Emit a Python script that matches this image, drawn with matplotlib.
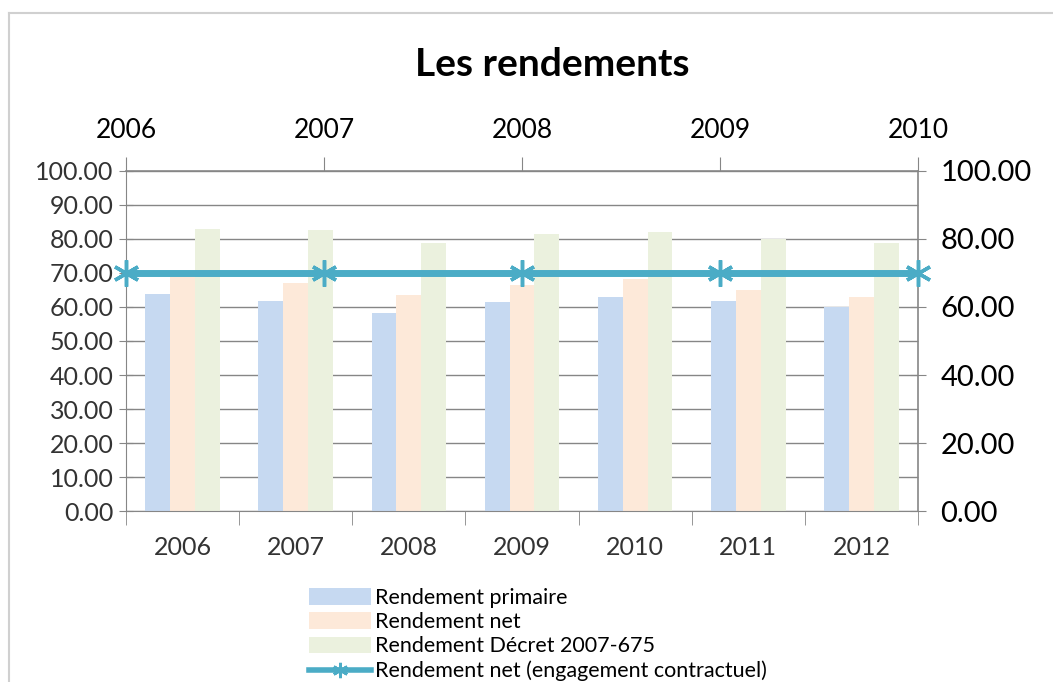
import numpy as np
import matplotlib.pyplot as plt
from matplotlib.lines import Line2D
from matplotlib.ticker import MultipleLocator, FormatStrFormatter

plt.rcParams['font.family'] = ['Lato', 'DejaVu Sans']

# data
years = ['2006', '2007', '2008', '2009', '2010', '2011', '2012']
primaire = [63.9, 61.8, 58.3, 61.6, 63.0, 61.7, 60.0]
net = [68.8, 67.0, 63.5, 66.5, 68.1, 65.0, 63.0]
decret = [83.0, 82.5, 78.8, 81.5, 82.1, 80.0, 78.8]
contrat_years = [2006, 2007, 2008, 2009, 2010]
contrat = [70, 70, 70, 70, 70]

c_prim = '#C6D9F1'
c_net = '#FDE9D9'
c_dec = '#EBF1DE'
c_line = '#4BACC6'
grey = '#868686'
star = (6, 2, 0)

fig = plt.figure(figsize=(10.53, 6.82), dpi=100)
pos = [0.1197, 0.2507, 0.7521, 0.4986]
ax = fig.add_axes(pos)

x = np.arange(len(years))
w = 0.22
ax.bar(x - w, primaire, w, color=c_prim, label='Rendement primaire', zorder=2)
ax.bar(x, net, w, color=c_net, label='Rendement net', zorder=2)
ax.bar(x + w, decret, w, color=c_dec, label='Rendement Décret 2007-675', zorder=2)

ax.set_xlim(-0.5, len(years) - 0.5)
ax.set_ylim(0, 100)
ax.yaxis.set_major_locator(MultipleLocator(10))
ax.yaxis.set_major_formatter(FormatStrFormatter('%.2f'))
ax.set_xticks(x)
ax.set_xticklabels(years)
ax.set_xticks(np.arange(-0.5, len(years)), minor=True)
ax.tick_params(axis='x', which='major', length=0, pad=18, labelsize=18, labelcolor='#333333')
ax.tick_params(axis='x', which='minor', length=10, color=grey, direction='out')
ax.tick_params(axis='y', direction='inout', length=10, color=grey, labelsize=18,
               labelcolor='#333333', pad=4)
ax.grid(axis='y', color=grey, lw=1, zorder=0)
for s in ax.spines.values():
    s.set_color(grey)
ax.spines['top'].set_visible(False)
ax.spines['right'].set_visible(False)

# secondary axes: top years and right values
ax2 = fig.add_axes(pos, frameon=False)
ax2.plot(contrat_years, contrat, color=c_line, lw=5, marker=star, ms=19,
         mew=2.5, mec=c_line, clip_on=False, zorder=5)
ax2.set_xlim(2006, 2010)
ax2.set_ylim(0, 100)
ax2.xaxis.tick_top()
ax2.yaxis.tick_right()
ax2.set_xticks(contrat_years)
ax2.set_xticklabels([str(y) for y in contrat_years])
ax2.yaxis.set_major_locator(MultipleLocator(20))
ax2.yaxis.set_minor_locator(MultipleLocator(10))
ax2.yaxis.set_major_formatter(FormatStrFormatter('%.2f'))
ax2.tick_params(axis='x', direction='out', length=10, color=grey, labelsize=19, pad=10)
ax2.tick_params(axis='y', which='major', direction='inout', length=12, color=grey,
                labelsize=21, pad=10)
ax2.tick_params(axis='y', which='minor', direction='in', length=6, color=grey)
ax2.axhline(100, color=grey, lw=1.2, clip_on=False)
ax2.axvline(2010, color=grey, lw=1.2, clip_on=False)

fig.text(0.524, 0.905, 'Les rendements', ha='center', va='center',
         fontsize=28, fontweight='bold')

# chart frame
fig.add_artist(Line2D([0.009, 0.009], [0, 0.981], color='#D0D0D0', lw=1.5))
fig.add_artist(Line2D([0.009, 1.0], [0.981, 0.981], color='#D0D0D0', lw=1.5))

h1, l1 = ax.get_legend_handles_labels()
h_line = Line2D([], [], color=c_line, lw=4, marker=star, ms=11, mew=2, mec=c_line)
fig.legend(h1 + [h_line], l1 + ['Rendement net (engagement contractuel)'],
           loc='upper left', bbox_to_anchor=(0.293, 0.138),
           frameon=False, fontsize=15.5, handlelength=2.9, handleheight=0.8,
           labelspacing=0.2, borderaxespad=0, handletextpad=0.2,
           borderpad=0)

fig.savefig('out.png', dpi=100)
